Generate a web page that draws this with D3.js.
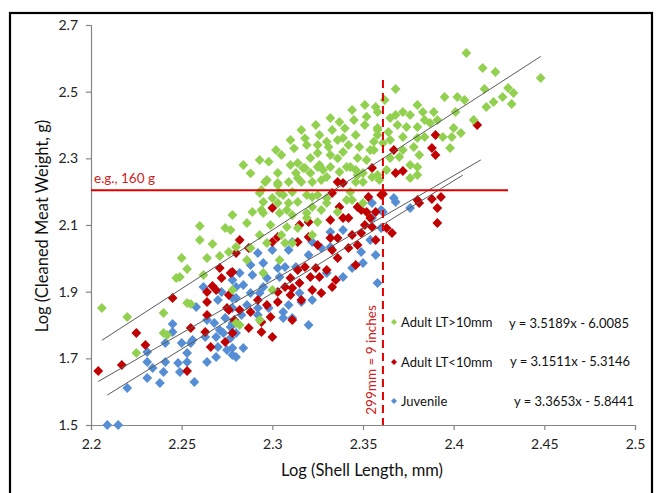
<!DOCTYPE html>
<html>
<head>
<meta charset="utf-8">
<script src="https://cdn.jsdelivr.net/npm/d3@7"></script>
<style>
  html, body { margin: 0; padding: 0; background: #fff; }
  svg { display: block; font-family: Lato, "Open Sans", sans-serif; }
</style>
</head>
<body>
<svg id="chart" width="659" height="493"></svg>
<script>
// Log shell length (mm) vs log cleaned meat weight (g), by group
const adultLarge = [
  [2.206,1.851],[2.220,1.824],[2.240,1.836],[2.240,1.776],[2.242,1.770],[2.225,1.716],[2.253,1.866],[2.255,1.863],[2.280,1.806],
  [2.278,2.130],[2.260,2.097],[2.274,2.091],[2.260,2.055],[2.267,2.043],[2.250,2.001],[2.264,2.001],[2.271,2.007],[2.276,2.019],
  [2.280,2.034],[2.253,1.968],[2.249,1.944],[2.247,1.941],[2.262,1.950],
  [2.351,2.400],[2.358,2.391],[2.358,2.370],[2.346,2.370],[2.339,2.361],[2.336,2.355],[2.319,2.340],[2.325,2.340],[2.331,2.334],
  [2.342,2.340],[2.348,2.334],[2.354,2.325],[2.325,2.316],[2.332,2.310],[2.339,2.319],[2.347,2.301],[2.352,2.295],[2.321,2.301],
  [2.314,2.286],[2.318,2.271],[2.325,2.274],[2.328,2.265],[2.332,2.274],[2.341,2.274],[2.346,2.265],[2.350,2.256],[2.358,2.250],
  [2.303,2.256],[2.313,2.256],[2.321,2.256],[2.297,2.235],[2.303,2.226],[2.309,2.229],[2.316,2.229],[2.322,2.229],[2.327,2.235],
  [2.346,2.229],[2.350,2.229],[2.294,2.205],[2.304,2.196],[2.311,2.199],[2.319,2.190],[2.325,2.190],[2.330,2.181],[2.343,2.199],
  [2.295,2.169],[2.303,2.166],[2.309,2.166],[2.314,2.169],[2.322,2.154],[2.327,2.145],[2.344,2.175],[2.289,2.139],[2.295,2.136],
  [2.304,2.136],[2.311,2.130],[2.319,2.121],[2.325,2.109],[2.286,2.106],[2.299,2.100],[2.308,2.094],[2.314,2.091],[2.277,2.085],
  [2.293,2.070],[2.305,2.070],[2.322,2.070],[2.297,2.046],[2.311,2.046],[2.288,2.031],
  [2.307,2.046],[2.295,1.956],[2.300,1.905],[2.278,1.905],[2.282,1.800],[2.293,1.815],[2.286,1.995],[2.304,1.995],
  [2.407,2.616],[2.416,2.571],[2.423,2.559],[2.448,2.541],[2.368,2.508],[2.417,2.508],[2.430,2.511],[2.433,2.496],[2.427,2.484],
  [2.432,2.463],[2.422,2.469],[2.418,2.454],[2.395,2.484],[2.402,2.484],[2.406,2.475],[2.357,2.454],[2.380,2.460],[2.401,2.439],
  [2.389,2.439],[2.383,2.439],[2.365,2.421],[2.372,2.439],[2.376,2.430],[2.368,2.430],[2.384,2.415],[2.391,2.415],[2.369,2.400],
  [2.374,2.394],[2.380,2.394],[2.387,2.406],[2.358,2.385],[2.364,2.379],[2.400,2.391],[2.404,2.376],[2.411,2.415],[2.399,2.364],
  [2.394,2.364],[2.384,2.364],[2.380,2.361],[2.372,2.364],[2.365,2.355],[2.356,2.325],[2.361,2.346],[2.398,2.331],[2.378,2.334],
  [2.372,2.325],[2.381,2.310],[2.365,2.301],[2.370,2.304],[2.376,2.280],[2.380,2.274],[2.363,2.265],[2.380,2.250],[2.376,2.241],
  [2.359,2.235],[2.355,2.244],
  [2.284,2.280],[2.293,2.295],[2.302,2.325],[2.310,2.355],[2.316,2.385],[2.324,2.400],[2.332,2.421],[2.337,2.409],[2.344,2.445],
  [2.351,2.460],[2.358,2.439],[2.362,2.475],
  [2.296,2.229],[2.303,2.220],[2.293,2.196],[2.294,2.145],[2.300,2.181],[2.306,2.190],[2.314,2.241],[2.317,2.271],[2.326,2.280],
  [2.330,2.244],[2.337,2.259],[2.343,2.274],[2.347,2.250],[2.322,2.184],[2.330,2.166],[2.341,2.175],[2.308,2.145],[2.319,2.136],
  [2.336,2.139],[2.350,2.166],
  [2.305,2.310],[2.312,2.330],[2.318,2.360],[2.326,2.370],[2.333,2.385],[2.340,2.390],[2.345,2.415],[2.352,2.425],[2.330,2.350],
  [2.298,2.290],[2.288,2.255],[2.310,2.280],[2.336,2.300],[2.356,2.350]
];

const adultSmall = [
  [2.245,1.881],[2.271,1.971],[2.277,1.956],[2.272,1.941],[2.267,1.917],[2.264,1.899],[2.269,1.905],[2.264,1.869],[2.276,1.890],
  [2.275,1.851],[2.225,1.776],[2.230,1.740],[2.255,1.791],[2.217,1.680],[2.204,1.662],[2.253,1.662],[2.264,1.830],[2.276,1.845],
  [2.266,1.734],[2.274,1.749],[2.263,1.779],
  [2.355,2.271],[2.336,2.229],[2.339,2.226],[2.333,2.196],[2.360,2.190],[2.300,2.151],[2.337,2.154],[2.347,2.154],[2.353,2.184],
  [2.349,2.145],[2.352,2.139],[2.332,2.115],[2.339,2.121],[2.342,2.121],[2.354,2.121],[2.315,2.100],[2.320,2.109],[2.282,2.055],
  [2.303,2.064],[2.320,2.064],[2.314,2.049],[2.325,2.040],[2.332,2.061],[2.336,2.061],[2.344,2.070],[2.349,2.076],[2.355,2.094],
  [2.357,2.055],[2.347,2.040],
  [2.300,2.049],[2.333,2.025],[2.342,2.031],[2.336,2.001],[2.346,1.980],[2.280,2.016],[2.287,2.031],[2.278,1.959],[2.314,1.965],
  [2.318,1.974],[2.324,1.971],[2.330,1.965],[2.326,1.944],[2.321,1.944],[2.310,1.941],[2.335,1.935],[2.307,1.914],[2.311,1.911],
  [2.315,1.926],[2.322,1.905],[2.327,1.896],[2.333,1.914],[2.310,1.890],[2.316,1.875],[2.292,1.875],[2.297,1.860],[2.303,1.869],
  [2.282,1.845],[2.288,1.839],[2.311,1.815],[2.279,1.815],[2.299,1.824],[2.287,1.791],[2.294,1.779],[2.300,1.764],[2.294,1.809],
  [2.278,1.776],[2.303,1.899],
  [2.413,2.400],[2.390,2.370],[2.388,2.331],[2.390,2.310],[2.367,2.325],[2.368,2.256],[2.372,2.262],[2.361,2.193],[2.380,2.175],
  [2.381,2.166],[2.388,2.178],[2.393,2.184],[2.391,2.151],[2.357,2.139],[2.391,2.106],[2.351,2.100],[2.366,2.076],[2.363,2.091]
];

const juvenile = [
  [2.262,1.914],[2.278,1.935],[2.280,1.914],[2.272,1.899],[2.258,1.854],[2.270,1.875],[2.278,1.881],
  [2.245,1.803],[2.245,1.779],[2.241,1.746],[2.250,1.746],[2.255,1.746],[2.253,1.716],[2.231,1.719],[2.231,1.689],[2.234,1.671],
  [2.241,1.689],[2.240,1.659],[2.231,1.641],[2.238,1.626],[2.248,1.686],[2.249,1.659],[2.253,1.689],[2.257,1.629],[2.220,1.611],
  [2.209,1.500],[2.215,1.500],[2.264,1.689],[2.269,1.704],[2.270,1.734],[2.275,1.725],[2.280,1.704],[2.264,1.815],[2.268,1.806],
  [2.271,1.785],[2.273,1.776],[2.269,1.764],[2.277,1.761],[2.263,1.764],[2.256,1.755],[2.278,1.851],[2.274,1.821],[2.277,1.794],
  [2.280,1.776],[2.278,1.731],
  [2.355,2.166],[2.360,2.145],[2.355,2.121],[2.339,2.085],[2.360,2.091],[2.354,2.055],[2.311,2.049],[2.322,2.049],[2.332,2.079],
  [2.292,2.016],[2.300,2.025],[2.309,2.025],[2.320,2.010],[2.327,2.031],[2.332,2.034],[2.349,2.019],[2.350,1.986],[2.357,2.010],
  [2.358,1.926],[2.344,1.971],[2.339,1.944],[2.330,1.956],[2.313,1.974],[2.307,1.974],[2.303,1.971],[2.295,1.986],[2.288,1.980],
  [2.282,1.956],[2.289,1.950],[2.297,1.941],[2.304,1.944],[2.284,1.920],[2.295,1.914],[2.293,1.896],[2.288,1.896],[2.280,1.881],
  [2.286,1.860],[2.292,1.851],[2.298,1.851],[2.283,1.830],[2.292,1.830],[2.278,1.806],[2.309,1.860],[2.315,1.896],[2.322,1.875],
  [2.316,1.869],[2.306,1.821],[2.311,1.821],[2.320,1.800],[2.306,1.839],[2.284,1.731],[2.278,1.710],
  [2.367,2.181],[2.368,2.169],[2.376,2.151],[2.361,2.139]
];

// Linear fits: [slope, intercept, xStart, xEnd]
const fitLarge = [3.5189, -6.0085, 2.206, 2.448];
const fitSmall = [3.1511, -5.3146, 2.204, 2.415];
const fitJuvenile = [3.3653, -5.8441, 2.209, 2.405];

const seriesNames = ["Adult LT>10mm", "Adult LT<10mm", "Juvenile"];
const equations = ["y = 3.5189x - 6.0085", "y = 3.1511x - 5.3146", "y = 3.3653x - 5.8441"];
const seriesColors = ["#92D050", "#C00000", "#558ED5"];

const xTicks = [2.2, 2.25, 2.3, 2.35, 2.4, 2.45, 2.5];
const xTickLabels = ["2.2", "2.25", "2.3", "2.35", "2.4", "2.45", "2.5"];
const yTicks = [1.5, 1.7, 1.9, 2.1, 2.3, 2.5, 2.7];
const yTickLabels = ["1.5", "1.7", "1.9", "2.1", "2.3", "2.5", "2.7"];

// Reference markers: 160 g meat weight, 299 mm shell length
const refWeight = 2.204;
const refWeightEnd = 2.43;
const refLength = 2.361;
const refLengthTop = 2.535;

const svg = d3.select("#chart");

// outer frame
svg.append("rect")
  .attr("x", 10).attr("y", 13).attr("width", 642).attr("height", 500)
  .attr("fill", "#fff").attr("stroke", "#000").attr("stroke-width", 2.2);

const x = d3.scaleLinear().domain([2.2, 2.5]).range([91, 635]);
const y = d3.scaleLinear().domain([1.5, 2.7]).range([425, 25]);

const axisColor = "#868686";

const yAxis = svg.append("g")
  .attr("transform", `translate(${x(2.2)},0)`)
  .call(d3.axisLeft(y).tickValues(yTicks).tickSize(5).tickPadding(8)
    .tickFormat((d, i) => yTickLabels[i]));
const xAxis = svg.append("g")
  .attr("transform", `translate(0,${y(1.5)})`)
  .call(d3.axisBottom(x).tickValues(xTicks).tickSize(5).tickPadding(9)
    .tickFormat((d, i) => xTickLabels[i]));

[xAxis, yAxis].forEach(g => {
  g.select(".domain").attr("stroke", axisColor).attr("stroke-width", 1.2);
  g.selectAll(".tick line").attr("stroke", axisColor).attr("stroke-width", 1.2);
  g.selectAll(".tick text").attr("fill", "#222").style("font-size", "14px")
    .style("font-family", "Lato, 'Open Sans', sans-serif");
});

// axis titles
svg.append("text")
  .attr("x", 362).attr("y", 476).attr("text-anchor", "middle")
  .style("font-size", "16.5px").attr("fill", "#111")
  .text("Log (Shell Length, mm)");
svg.append("text")
  .attr("transform", "translate(48,226) rotate(-90)")
  .attr("text-anchor", "middle")
  .style("font-size", "16.5px").attr("fill", "#111")
  .text("Log (Cleaned Meat Weight, g)");

const diamond = size => d3.symbol().type(d3.symbolSquare).size(size)();

const groups = [adultLarge, adultSmall, juvenile];
// draw juvenile first, then small adults, then large adults on top
[2, 1, 0].forEach(k => {
  svg.append("g").selectAll("path").data(groups[k]).join("path")
    .attr("d", diamond(48))
    .attr("transform", d => `translate(${x(d[0])},${y(d[1])}) rotate(45)`)
    .attr("fill", seriesColors[k]);
});

// fitted lines
const fits = [fitLarge, fitSmall, fitJuvenile];
fits.forEach(f => {
  const [m, b, x0, x1] = f;
  svg.append("line")
    .attr("x1", x(x0)).attr("y1", y(m * x0 + b))
    .attr("x2", x(x1)).attr("y2", y(m * x1 + b))
    .attr("stroke", "#5a5a5a").attr("stroke-width", 1);
});

// 160 g reference line
svg.append("line")
  .attr("x1", x(2.2)).attr("x2", x(refWeightEnd))
  .attr("y1", y(refWeight)).attr("y2", y(refWeight))
  .attr("stroke", "#E00000").attr("stroke-width", 2);
svg.append("text")
  .attr("x", 94).attr("y", 183)
  .style("font-size", "13.5px").attr("fill", "#D02020")
  .text("e.g., 160 g");

// 299 mm reference line
svg.append("line")
  .attr("x1", x(refLength)).attr("x2", x(refLength))
  .attr("y1", y(refLengthTop)).attr("y2", y(1.5))
  .attr("stroke", "#E00000").attr("stroke-width", 2)
  .attr("stroke-dasharray", "8,5");
svg.append("text")
  .attr("transform", `translate(${x(refLength) - 7},360) rotate(-90)`)
  .attr("text-anchor", "middle")
  .style("font-size", "13.5px").attr("fill", "#D02020")
  .text("299mm = 9 inches");

// legend with fit equations
const legendY = [322, 362, 401];
seriesNames.forEach((name, i) => {
  svg.append("path")
    .attr("d", diamond(18))
    .attr("transform", `translate(394,${legendY[i]}) rotate(45)`)
    .attr("fill", seriesColors[i]);
  svg.append("text")
    .attr("x", 401).attr("y", legendY[i]).attr("dy", "0.35em")
    .style("font-size", "13px").attr("fill", "#111")
    .text(name);
  svg.append("text")
    .attr("x", [509, 510, 514][i]).attr("y", legendY[i] + [1, -1, 0][i]).attr("dy", "0.35em")
    .style("font-size", "13px").attr("fill", "#111")
    .text(equations[i]);
});
</script>
</body>
</html>
